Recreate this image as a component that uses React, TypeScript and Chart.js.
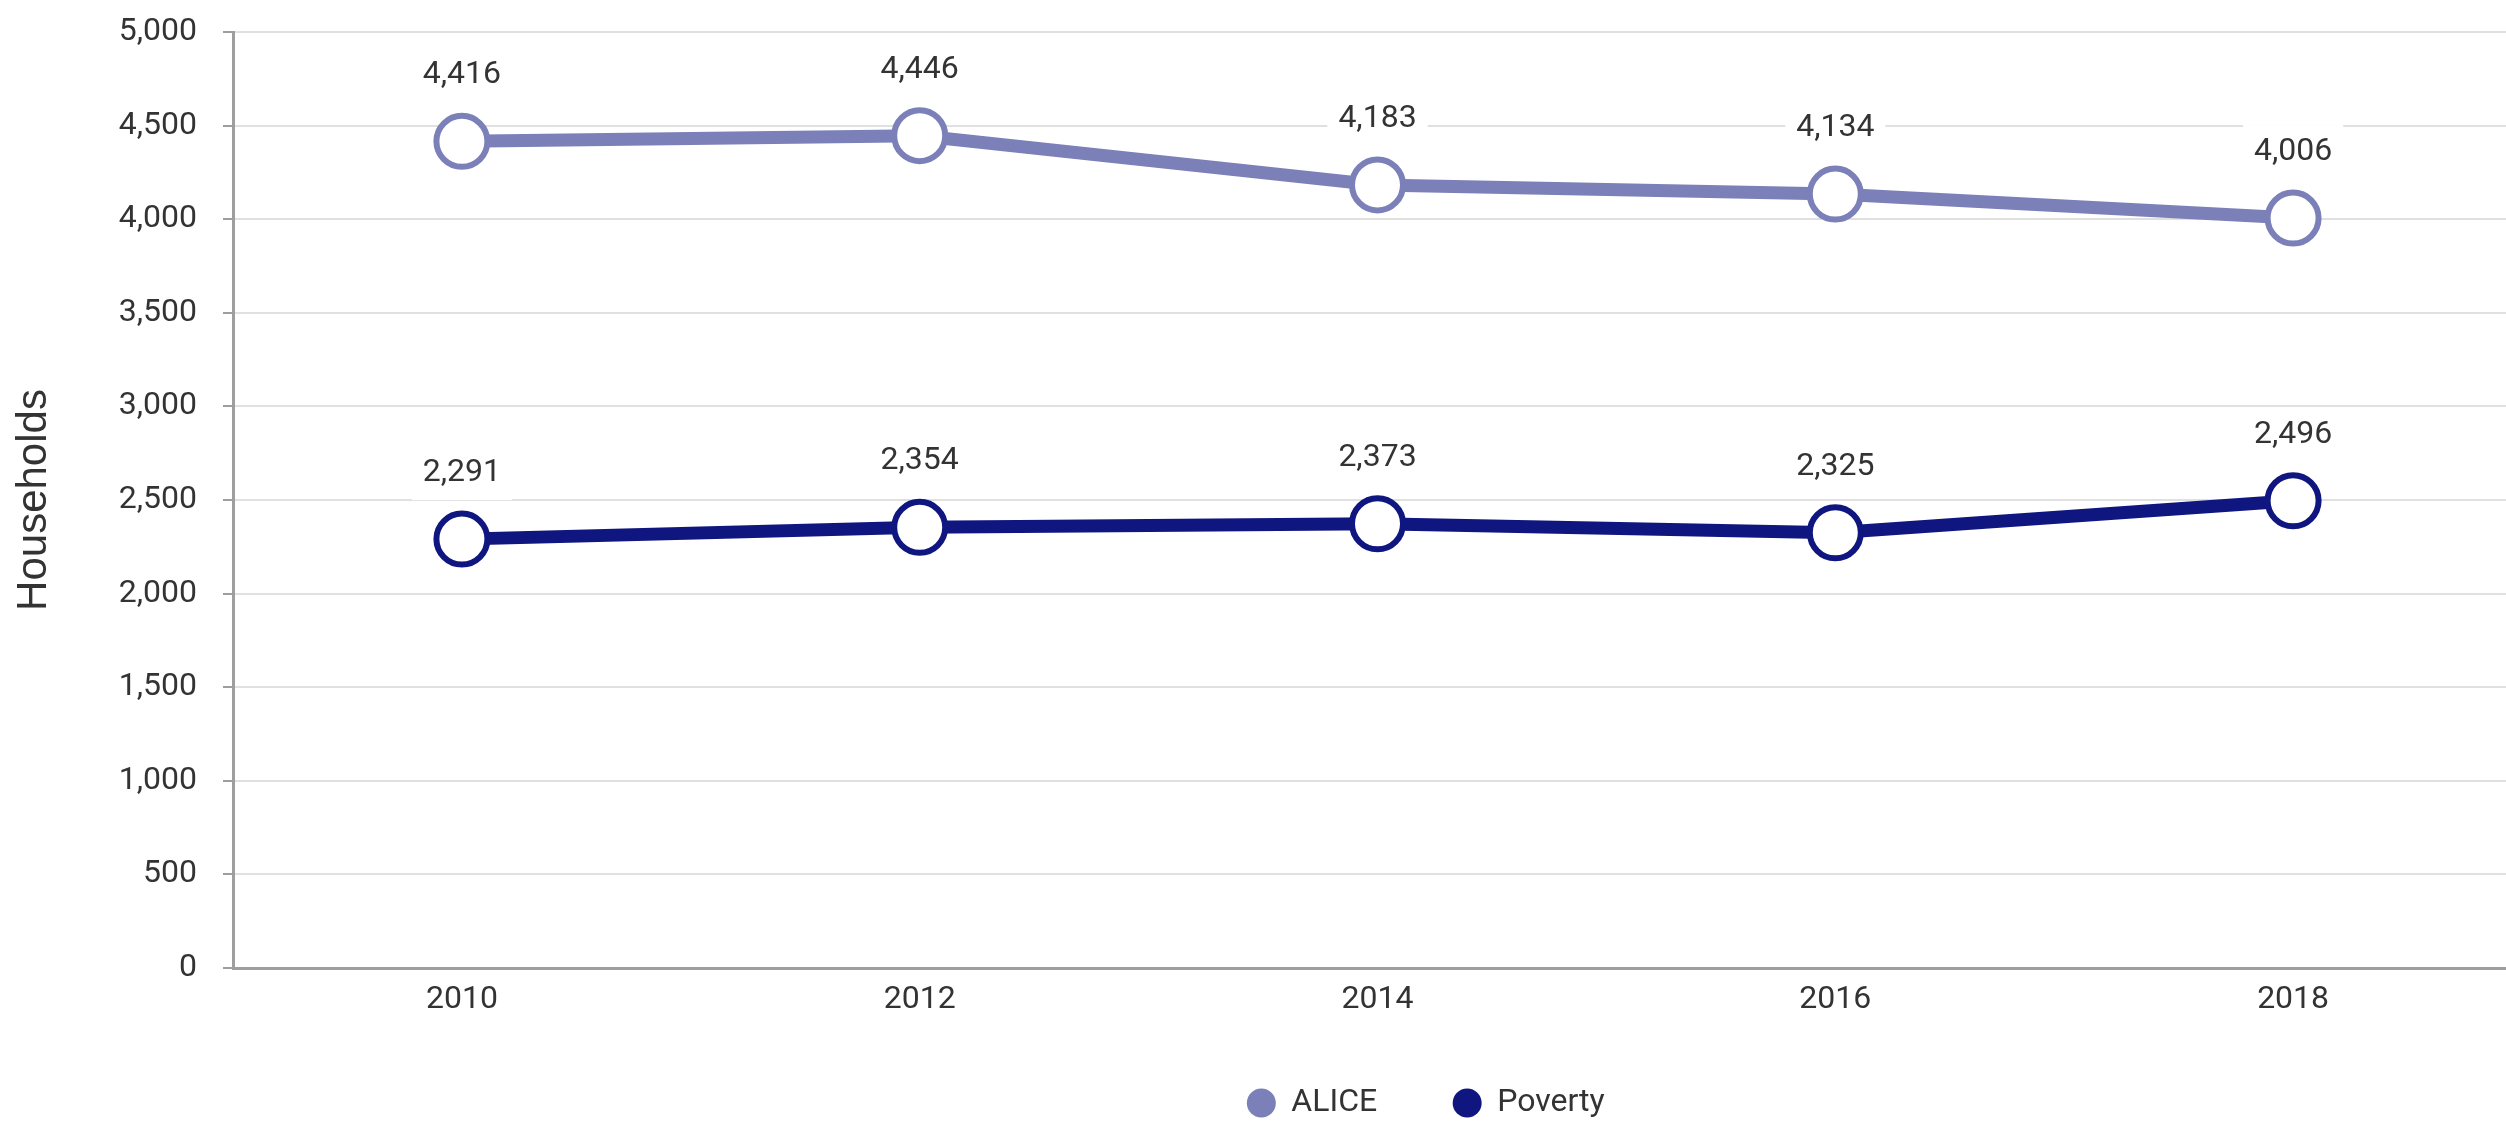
import React, { useEffect, useRef } from 'react';
import { Chart, registerables } from 'chart.js';

Chart.register(...registerables);

// ---- data ----
const years = ['2010', '2012', '2014', '2016', '2018'];
const aliceValues = [4416, 4446, 4183, 4134, 4006];
const povertyValues = [2291, 2354, 2373, 2325, 2496];
const seriesNames = ['ALICE', 'Poverty'];
const seriesColors = ['#7B80B8', '#10167F'];
const yMin = 0;
const yMax = 5000;
const yStep = 500;
const yTitle = 'Households';

// ---- style constants ----
const TEXT = '#333333';
const AXIS = '#9e9e9e';
const GRID = '#e0e0e0';
const FONT = 'Roboto';
const LABEL_OFFSET = 66;
const LEGEND_SHIFT = 165;

const fmt = (v: number) => Number(v).toLocaleString('en-US');

const valueLabels = {
  id: 'valueLabels',
  beforeDatasetsDraw(chart: any) {
    const ctx = chart.ctx;
    ctx.save();
    ctx.font = `32px ${FONT}`;
    chart.data.datasets.forEach((ds: any, di: number) => {
      const meta = chart.getDatasetMeta(di);
      meta.data.forEach((pt: any, i: number) => {
        const txt = fmt(ds.data[i]);
        const w = ctx.measureText(txt).width;
        const cy = pt.y - LABEL_OFFSET;
        ctx.fillStyle = '#ffffff';
        ctx.fillRect(pt.x - w / 2 - 11, cy - 27, w + 22, 54);
      });
    });
    ctx.restore();
  },
  afterDatasetsDraw(chart: any) {
    const ctx = chart.ctx;
    ctx.save();
    ctx.font = `32px ${FONT}`;
    ctx.fillStyle = TEXT;
    ctx.textAlign = 'center';
    ctx.textBaseline = 'middle';
    chart.data.datasets.forEach((ds: any, di: number) => {
      const meta = chart.getDatasetMeta(di);
      meta.data.forEach((pt: any, i: number) => {
        ctx.fillText(fmt(ds.data[i]), pt.x, pt.y - LABEL_OFFSET);
      });
    });
    ctx.restore();
  },
};

const legendShift = {
  id: 'legendShift',
  afterLayout(chart: any) {
    const lg = chart.legend;
    if (lg) {
      lg.left += LEGEND_SHIFT;
      lg.right += LEGEND_SHIFT;
    }
  },
};

export default function App() {
  const ref = useRef<HTMLCanvasElement>(null);

  useEffect(() => {
    document.body.style.margin = '0';
    document.body.style.overflow = 'hidden';
    const seriesValues = [aliceValues, povertyValues];
    const chart = new Chart(ref.current as HTMLCanvasElement, {
      type: 'line',
      data: {
        labels: years,
        datasets: seriesNames.map((name, k) => ({
          label: name,
          data: seriesValues[k],
          borderColor: seriesColors[k],
          backgroundColor: seriesColors[k],
          borderWidth: 13,
          pointRadius: 25.5,
          pointHoverRadius: 25.5,
          pointBorderWidth: 6,
          pointBackgroundColor: '#ffffff',
          pointBorderColor: seriesColors[k],
          tension: 0,
          fill: false,
        })),
      },
      options: {
        responsive: true,
        maintainAspectRatio: false,
        animation: false,
        events: [],
        layout: { autoPadding: false, padding: { top: 32, left: 0, right: 0, bottom: 0 } },
        plugins: {
          tooltip: { enabled: false },
          legend: {
            position: 'bottom',
            maxHeight: 111,
            labels: {
              usePointStyle: true,
              pointStyle: 'circle',
              boxWidth: 28,
              boxHeight: 20.5,
              padding: 76,
              color: TEXT,
              font: { family: FONT, size: 32 },
              generateLabels: (c: any) =>
                c.data.datasets.map((ds: any, i: number) => ({
                  text: ds.label,
                  fillStyle: seriesColors[i],
                  strokeStyle: seriesColors[i],
                  lineWidth: 0,
                  pointStyle: 'circle',
                  hidden: false,
                  datasetIndex: i,
                  fontColor: TEXT,
                })),
            },
          },
        },
        scales: {
          x: {
            type: 'category',
            offset: true,
            grid: { display: false, drawTicks: false },
            border: { display: true, color: AXIS, width: 3 },
            ticks: { padding: 13, color: TEXT, font: { family: FONT, size: 32 } },
            afterFit: (s: any) => {
              s.height = 43;
              s.paddingLeft = 0;
              s.paddingRight = 0;
            },
          },
          y: {
            min: yMin,
            max: yMax,
            ticks: {
              stepSize: yStep,
              padding: 26,
              color: TEXT,
              font: { family: FONT, size: 32 },
              callback: (v: any) => fmt(v),
            },
            grid: {
              color: GRID,
              lineWidth: 2,
              drawTicks: true,
              tickLength: 10,
              tickColor: AXIS,
              tickWidth: 2,
            },
            border: { display: true, color: AXIS, width: 3 },
            title: {
              display: true,
              text: yTitle,
              color: TEXT,
              font: { family: 'Liberation Sans', size: 42 },
              padding: { top: 9, bottom: 0 },
            },
            afterFit: (s: any) => {
              s.width = 233;
              s.paddingTop = 0;
              s.paddingBottom = 0;
            },
          },
        },
      } as any,
      plugins: [valueLabels, legendShift],
    });
    return () => chart.destroy();
  }, []);

  return (
    <div style={{ width: '2506px', height: '1122px', overflow: 'hidden', background: '#ffffff' }}>
      <div style={{ position: 'relative', width: '2522px', height: '1122px' }}>
        <canvas ref={ref} />
      </div>
    </div>
  );
}
